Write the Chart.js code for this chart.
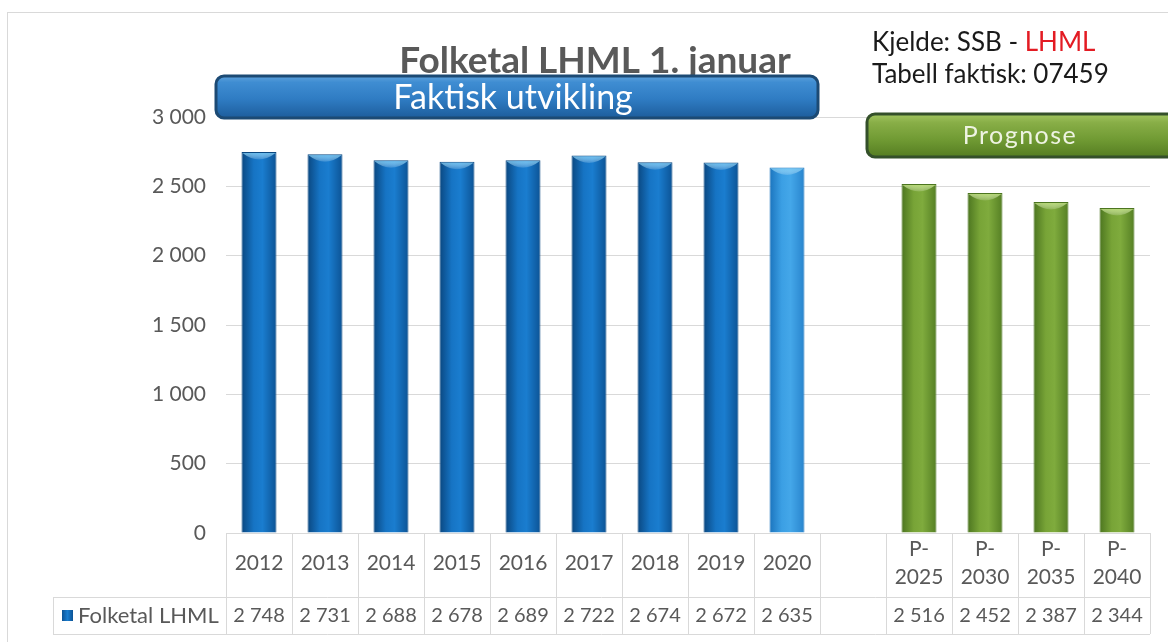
<!DOCTYPE html>
<html lang="nn">
<head>
<meta charset="UTF-8">
<title>Folketal LHML 1. januar</title>
<script src="https://cdn.jsdelivr.net/npm/chart.js@4.4.1/dist/chart.umd.min.js"></script>
<style>
  html, body { margin: 0; padding: 0; background: #fff; }
  #wrap { width: 1168px; height: 642px; }
</style>
</head>
<body>
<div id="wrap"><canvas id="chart" width="1168" height="642"></canvas></div>
<script>
// Folketal LHML per 1. januar – faktisk (SSB tabell 07459) og prognose
const categories = ['2012', '2013', '2014', '2015', '2016', '2017', '2018', '2019', '2020', '',
                    ['P-', '2025'], ['P-', '2030'], ['P-', '2035'], ['P-', '2040']];
const folketal = [2748, 2731, 2688, 2678, 2689, 2722, 2674, 2672, 2635, null, 2516, 2452, 2387, 2344];
const yTicks = [0, 500, 1000, 1500, 2000, 2500, 3000];
const seriesName = 'Folketal LHML';

const FONT = 'Lato, "Open Sans", "Liberation Sans", sans-serif';
const GREY = '#595959';
const LINE = '#D9D9D9';
const BAR_PCT = 0.53;

// "2748" -> "2 748"
const fmt = v => String(v).replace(/\B(?=(\d{3})+(?!\d))/g, ' ');

const isForecast = i => Array.isArray(categories[i]);
const lastActual = folketal.reduce((last, v, i) => (v != null && !isForecast(i) ? i : last), -1);

// horizontal gradient stops, left -> right, to give the bars a rounded look
const palettes = {
  actual:   ['#0a4780', '#1674c4', '#1a7dcf', '#0c5395'],
  latest:   ['#1b74bd', '#3b9fe4', '#44a7e9', '#2884cd'],
  forecast: ['#4c7520', '#78a437', '#7fab3d', '#557f24']
};

function paletteFor(i) {
  if (isForecast(i)) return palettes.forecast;
  if (i === lastActual) return palettes.latest;
  return palettes.actual;
}

function barFill(ctx) {
  const chart = ctx.chart;
  const stops = paletteFor(ctx.dataIndex);
  const xs = chart.scales.x;
  if (!chart.chartArea || !xs) return stops[1];
  const cx = xs.getPixelForValue(ctx.dataIndex);
  const half = xs.width / categories.length * BAR_PCT / 2;
  const g = chart.ctx.createLinearGradient(cx - half, 0, cx + half, 0);
  g.addColorStop(0, stops[0]);
  g.addColorStop(0.35, stops[1]);
  g.addColorStop(0.6, stops[2]);
  g.addColorStop(1, stops[3]);
  return g;
}

function roundBox(ctx, x, y, w, h, r, stops, stroke) {
  ctx.save();
  ctx.beginPath();
  ctx.roundRect(x, y, w, h, r);
  const g = ctx.createLinearGradient(0, y, 0, y + h);
  stops.forEach(([o, c]) => g.addColorStop(o, c));
  ctx.fillStyle = g;
  ctx.fill();
  ctx.lineWidth = 3;
  ctx.strokeStyle = stroke;
  ctx.stroke();
  ctx.restore();
}

// lighter bevel on top of each bar
const barCaps = {
  id: 'barCaps',
  afterDatasetsDraw(chart) {
    const ctx = chart.ctx;
    chart.getDatasetMeta(0).data.forEach((el, i) => {
      if (folketal[i] == null) return;
      const l = el.x - el.width / 2, r = el.x + el.width / 2, t = el.y;
      const light = isForecast(i) ? 'rgba(190,225,120,0.9)' : 'rgba(110,200,245,0.9)';
      ctx.save();
      const g = ctx.createLinearGradient(0, t, 0, t + 9);
      g.addColorStop(0, light);
      g.addColorStop(1, 'rgba(255,255,255,0)');
      ctx.beginPath();
      ctx.moveTo(l + 1, t + 1);
      ctx.lineTo(r - 1, t + 1);
      ctx.quadraticCurveTo(el.x, t + 14, l + 1, t + 1);
      ctx.fillStyle = g;
      ctx.fill();
      ctx.restore();
    });
  }
};

// frame, title, banners, source note and the data table under the plot
const decorations = {
  id: 'decorations',
  afterDraw(chart) {
    const ctx = chart.ctx;
    const area = chart.chartArea;
    const xs = chart.scales.x;
    const colW = xs.width / categories.length;

    ctx.save();
    // outer chart border
    ctx.strokeStyle = LINE;
    ctx.lineWidth = 1;
    ctx.strokeRect(7.5, 12.5, 1200, 700);

    // title (the banner is drawn over its lower edge)
    ctx.fillStyle = GREY;
    ctx.font = 'bold 37px ' + FONT;
    ctx.textAlign = 'center';
    ctx.textBaseline = 'alphabetic';
    ctx.fillText('Folketal LHML 1. januar', 595, 73);

    roundBox(ctx, 216, 76, 602, 42, 8,
      [[0, '#5ea2dc'], [0.15, '#3f8dd2'], [0.55, '#2f7cc3'], [1, '#1d5d9c']], '#1c4a74');
    ctx.fillStyle = '#ffffff';
    ctx.font = '34px ' + FONT;
    ctx.textBaseline = 'middle';
    ctx.fillText('Faktisk utvikling', 513, 98);

    roundBox(ctx, 867, 114, 330, 43, 8,
      [[0, '#a2c660'], [0.2, '#88ae47'], [0.6, '#709a33'], [1, '#557d22']], '#34502a');
    ctx.fillStyle = '#eef3e2';
    ctx.font = '25px ' + FONT;
    ctx.letterSpacing = '1.5px';
    ctx.fillText('Prognose', 1020, 136);
    ctx.letterSpacing = '0px';

    // source
    ctx.textAlign = 'left';
    ctx.textBaseline = 'alphabetic';
    ctx.font = '26px ' + FONT;
    const src = 'Kjelde: SSB - ';
    ctx.fillStyle = '#1a1a1a';
    ctx.fillText(src, 872, 51);
    ctx.fillStyle = '#e31b23';
    ctx.fillText('LHML', 872 + ctx.measureText(src).width, 51);
    ctx.fillStyle = '#1a1a1a';
    ctx.fillText('Tabell faktisk: 07459', 872, 83);

    // data table
    const top = area.bottom;
    const mid = top + 64;
    const bot = mid + 37;
    const left = xs.left;
    const right = xs.right;
    const legendLeft = 53;
    ctx.strokeStyle = LINE;
    ctx.beginPath();
    ctx.moveTo(left, top + 0.5); ctx.lineTo(right, top + 0.5);
    ctx.moveTo(legendLeft, mid + 0.5); ctx.lineTo(right, mid + 0.5);
    ctx.moveTo(legendLeft, bot + 0.5); ctx.lineTo(right, bot + 0.5);
    for (let i = 0; i <= categories.length; i++) {
      const x = Math.round(left + i * colW) + 0.5;
      ctx.moveTo(x, top); ctx.lineTo(x, bot);
    }
    ctx.moveTo(legendLeft + 0.5, mid); ctx.lineTo(legendLeft + 0.5, bot);
    ctx.stroke();

    // legend key
    const ky = mid + 13;
    const kg = ctx.createLinearGradient(62, 0, 73, 0);
    kg.addColorStop(0, '#0c5395');
    kg.addColorStop(0.5, '#1a7dcf');
    kg.addColorStop(1, '#0c5395');
    ctx.fillStyle = kg;
    ctx.fillRect(62, ky, 11, 11);
    ctx.fillStyle = GREY;
    ctx.font = '22px ' + FONT;
    ctx.textBaseline = 'middle';
    ctx.textAlign = 'left';
    ctx.fillText(seriesName, 78, mid + 19);

    ctx.font = '20px ' + FONT;
    ctx.textAlign = 'center';
    folketal.forEach((v, i) => {
      if (v == null) return;
      ctx.fillText(fmt(v), xs.getPixelForValue(i), mid + 19);
    });
    ctx.restore();
  }
};

Chart.defaults.font.family = FONT;

new Chart(document.getElementById('chart'), {
  type: 'bar',
  data: {
    labels: categories,
    datasets: [{
      label: seriesName,
      data: folketal,
      backgroundColor: barFill,
      borderColor: ctx => paletteFor(ctx.dataIndex)[0],
      borderWidth: 1,
      barPercentage: BAR_PCT,
      categoryPercentage: 1
    }]
  },
  options: {
    responsive: false,
    animation: false,
    devicePixelRatio: 1,
    layout: { padding: { top: 117, right: 18, bottom: 0, left: 0 } },
    plugins: {
      legend: { display: false },
      title: { display: false },
      tooltip: { enabled: false }
    },
    scales: {
      x: {
        grid: { display: false, drawTicks: false },
        border: { display: false },
        ticks: {
          color: GREY,
          font: { size: 21, lineHeight: 1.333 },
          padding: 16,
          crossAlign: 'center',
          maxRotation: 0,
          autoSkip: false
        },
        afterFit: s => { s.height = 109; }
      },
      y: {
        min: 0,
        max: 3000,
        afterBuildTicks: s => { s.ticks = yTicks.map(v => ({ value: v })); },
        ticks: {
          color: GREY,
          font: { size: 21 },
          padding: 20,
          callback: v => fmt(v)
        },
        grid: { color: LINE, drawTicks: false },
        border: { display: false },
        afterFit: s => { s.width = 226; }
      }
    }
  },
  plugins: [barCaps, decorations]
});
</script>
</body>
</html>
